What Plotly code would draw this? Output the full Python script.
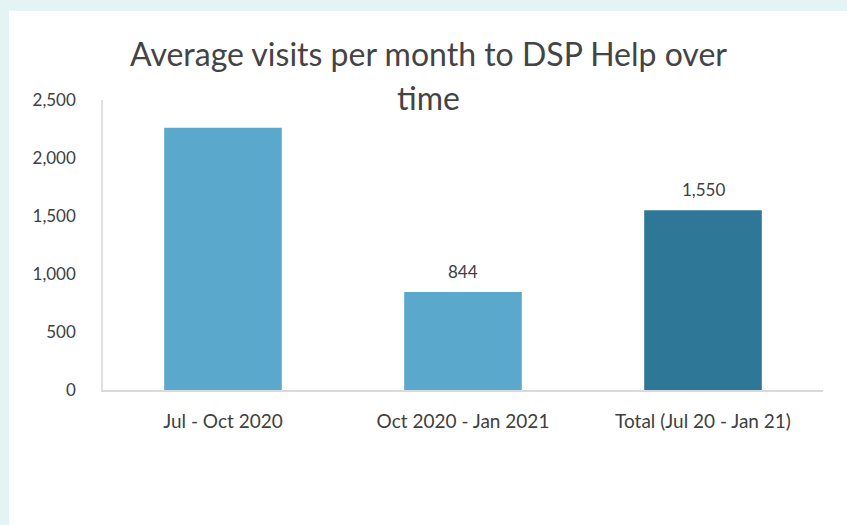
import plotly.graph_objects as go

# Average monthly visits to DSP Help by period
periods = ["Jul - Oct 2020", "Oct 2020 - Jan 2021", "Total (Jul 20 - Jan 21)"]
visits = [2260, 844, 1550]
value_labels = ["", "844", "1,550"]
bar_colors = ["#5aa8cc", "#5aa8cc", "#2e7797"]

title_lines = ["Average visits per month to DSP Help over", "time"]

W, H = 847, 525
L, R, T, B = 103, 24, 100, 135
plot_w = W - L - R
plot_h = H - T - B


def px_x(px):
    return (px - L) / plot_w


def px_y(py):
    return (H - B - py) / plot_h


fig = go.Figure(
    go.Bar(
        x=periods,
        y=visits,
        marker=dict(color=bar_colors, line=dict(width=0)),
        width=0.49,
        hoverinfo="x+y",
    )
)

# Value labels above the bars
for cat, val, lab in zip(periods, visits, value_labels):
    if lab:
        fig.add_annotation(
            x=cat, y=val, text=lab, showarrow=False,
            yanchor="bottom", yshift=8,
            font=dict(family="Lato", size=17, color="#404040"),
        )

# White card on the pale teal page
fig.add_shape(
    type="rect", xref="paper", yref="paper",
    x0=px_x(9), x1=px_x(W + 5), y0=px_y(H + 5), y1=px_y(11),
    fillcolor="white", line=dict(width=0), layer="below",
)

# Two-line chart heading
for line, py in zip(title_lines, [54, 97]):
    fig.add_annotation(
        text=line, xref="paper", yref="paper",
        x=px_x(428), y=px_y(py), xanchor="center", yanchor="middle",
        showarrow=False,
        font=dict(family="Lato", size=32, color="#444444"),
    )

fig.update_layout(
    width=W, height=H,
    margin=dict(l=L, r=R, t=T, b=B),
    paper_bgcolor="#e4f4f4",
    plot_bgcolor="rgba(0,0,0,0)",
    showlegend=False,
    bargap=0.51,
    font=dict(family="Lato", size=17, color="#404040"),
)
fig.update_xaxes(
    showgrid=False, showline=True, linecolor="#d9d9d9", linewidth=1.5,
    ticks="", tickfont=dict(family="Lato", size=19, color="#404040"),
    ticklabelstandoff=13,
)
fig.update_yaxes(
    range=[0, 2500], tickvals=[0, 500, 1000, 1500, 2000, 2500],
    ticktext=["0", "500", "1,000", "1,500", "2,000", "2,500"],
    showgrid=False, zeroline=False, showline=True, linecolor="#e0e0e0",
    linewidth=1.5, ticks="", ticklabelstandoff=22,
    tickfont=dict(family="Lato", size=17, color="#404040"),
)

fig.write_html("out.html")
